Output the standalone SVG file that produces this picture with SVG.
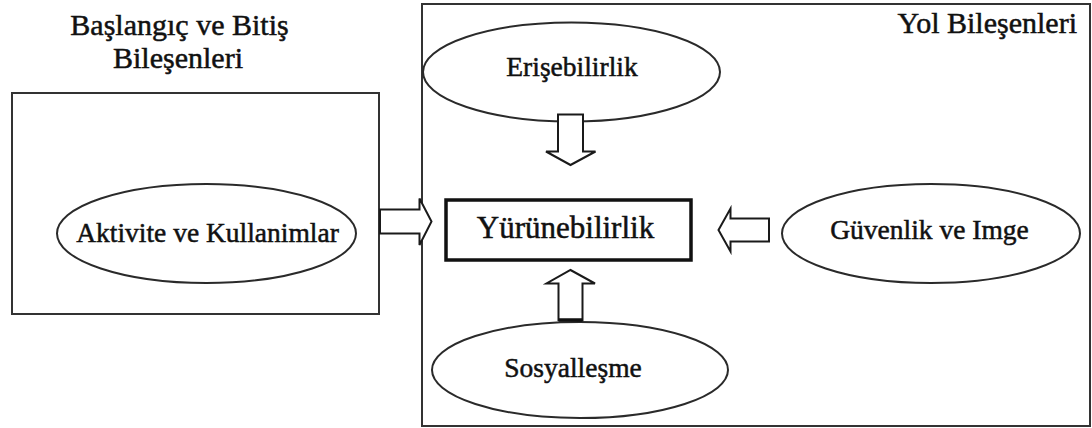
<svg xmlns="http://www.w3.org/2000/svg" width="1092" height="428" viewBox="0 0 1092 428">
<style>
.frame{fill:none;stroke:#333;stroke-width:2}
.ell{fill:#fff;stroke:#2a2a2a;stroke-width:2}
.arrow{fill:#fff;stroke:#1a1a1a;stroke-width:2;stroke-linejoin:miter}
text{font-family:"Liberation Serif","Times New Roman",serif;fill:#111;stroke:#111;stroke-width:0.5}
.lbl{font-size:27.5px;text-anchor:middle}
.big{font-size:31px;text-anchor:middle}
.title{font-size:30px}
</style>
<rect width="1092" height="428" fill="#fff"/>
<g id="start-end-group">
<rect class="frame" x="12" y="93" width="367" height="221"/>
<text class="title" x="179.5" y="35" text-anchor="middle">Başlangıç ve Bitiş</text>
<text class="title" x="178" y="68" text-anchor="middle">Bileşenleri</text>
</g>
<g id="road-group">
<rect class="frame" x="422" y="4" width="668" height="422"/>
<text class="title" x="1077" y="33" text-anchor="end">Yol Bileşenleri</text>
</g>
<g id="aktivite">
<ellipse class="ell" cx="206.5" cy="233.5" rx="149.5" ry="49.5"/>
<text class="lbl" x="207.5" y="242">Aktivite ve Kullanimlar</text>
</g>
<g id="erisebilirlik">
<ellipse class="ell" cx="571.5" cy="72" rx="148.5" ry="49.5"/>
<text class="lbl" x="572" y="76">Erişebilirlik</text>
</g>
<g id="guvenlik">
<ellipse class="ell" cx="931" cy="233.5" rx="149" ry="49.5"/>
<text class="lbl" x="929.5" y="239">Güvenlik ve Imge</text>
</g>
<g id="sosyallesme">
<ellipse class="ell" cx="580" cy="370" rx="148" ry="48"/>
<text class="lbl" x="573" y="377">Sosyalleşme</text>
</g>
<g id="yurunebilirlik">
<rect x="446" y="200" width="245" height="60" fill="#fff" stroke="#111" stroke-width="3.5"/>
<text class="big" x="565.5" y="238">Yürünebilirlik</text>
</g>
<g id="connectors">
<path class="arrow" d="M558,114.5 H583 V151.5 H595.5 L570.5,165 L546,151.5 H558 Z"/>
<path class="arrow" d="M558.5,320 V283.5 H546.5 L570.5,270 L595,283.5 H582.5 V320 Z"/>
<line x1="558.5" y1="320" x2="582.5" y2="320" stroke="#111" stroke-width="3.5"/>
<path class="arrow" d="M380,209.5 H419.5 V198.5 L431.5,221.5 L419.5,245 V233.5 H380 Z"/>
<path class="arrow" d="M769,218.5 H730.5 V208.5 L718.5,230 L730.5,251.5 V241.5 H769 Z"/>
</g>
</svg>
